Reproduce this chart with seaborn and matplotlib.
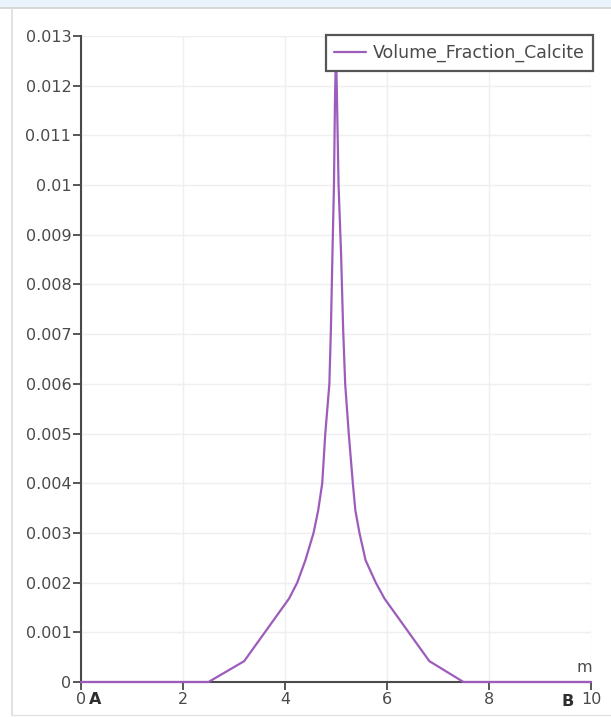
import matplotlib
matplotlib.use("Agg")
import matplotlib.pyplot as plt
import seaborn as sns
import pandas as pd
from matplotlib.patches import Rectangle
from matplotlib.lines import Line2D

# Dane (linia A-B)
dist_m = [0, 2.5, 3.2, 4.08, 4.24, 4.4, 4.56, 4.65, 4.73, 4.79, 4.87, 4.9,
          4.93, 4.96, 4.98, 5.0, 5.02, 5.05, 5.1, 5.14, 5.18, 5.25, 5.33,
          5.38, 5.46, 5.58, 5.78, 5.95, 6.83, 7.5, 10]
calcite = [0, 0, 0.00042, 0.00168, 0.002, 0.00245, 0.003, 0.00345, 0.004,
           0.005, 0.006, 0.0071, 0.0086, 0.0100, 0.0117, 0.0127, 0.0117,
           0.0100, 0.0086, 0.0071, 0.006, 0.005, 0.004, 0.00345, 0.003,
           0.00245, 0.002, 0.00168, 0.00042, 0, 0]

x_ticks = [0, 2, 4, 6, 8, 10]
x_labels = ["0", "2", "4", "6", "8", "10"]
y_ticks = [0, 0.001, 0.002, 0.003, 0.004, 0.005, 0.006, 0.007, 0.008,
           0.009, 0.01, 0.011, 0.012, 0.013]
y_labels = ["0", "0.001", "0.002", "0.003", "0.004", "0.005", "0.006",
            "0.007", "0.008", "0.009", "0.01", "0.011", "0.012", "0.013"]

df = pd.DataFrame({"m": dist_m, "Volume_Fraction_Calcite": calcite})

sns.set_theme(style="white")
plt.rcParams["font.family"] = ["DejaVu Sans"]

line_color = "#9d5cbb"
axis_color = "#4a4a4a"

fig = plt.figure(figsize=(6.11, 7.17), dpi=100)
fig.patch.set_facecolor("white")

# pasek u gory i ramka okna
top_band = 8 / 717
fig.patches.append(Rectangle((0, 1 - top_band), 1, top_band, transform=fig.transFigure,
                             facecolor="#eaf2fc", edgecolor="none"))
fig.lines.append(Line2D([0, 1], [1 - top_band] * 2, transform=fig.transFigure,
                        color="#d0d0d0", lw=1.2))
fig.lines.append(Line2D([12 / 611] * 2, [2 / 717, 1 - top_band], transform=fig.transFigure,
                        color="#dcdcdc", lw=1.2))
fig.lines.append(Line2D([12 / 611, 1], [2 / 717] * 2, transform=fig.transFigure,
                        color="#e2e2e2", lw=1.0))

ax = fig.add_axes([81 / 611, 1 - 682 / 717, 510 / 611, 646 / 717])

sns.lineplot(data=df, x="m", y="Volume_Fraction_Calcite", ax=ax, color=line_color,
             lw=1.6, estimator=None, sort=False, label="Volume_Fraction_Calcite",
             clip_on=False, zorder=3)

ax.set_xlim(0, 10)
ax.set_ylim(0, 0.013)
ax.set_xticks(x_ticks)
ax.set_xticklabels(x_labels)
ax.set_yticks(y_ticks)
ax.set_yticklabels(y_labels)
ax.set_xlabel("")
ax.set_ylabel("")

ax.grid(True, color="#efefef", lw=1)
ax.set_axisbelow(True)
for side in ["top", "right"]:
    ax.spines[side].set_visible(False)
for side in ["left", "bottom"]:
    ax.spines[side].set_color(axis_color)
    ax.spines[side].set_linewidth(1.5)
ax.tick_params(direction="out", length=6, width=1.3, color=axis_color,
               labelcolor=axis_color, labelsize=11.5, pad=1, left=True, bottom=True)

# punkty A i B oraz jednostka
ax.annotate("A", xy=(0, 0), xytext=(10.5, -7.5), textcoords="offset points",
            ha="center", va="top", fontweight="bold", fontsize=11.5, color="#2e2e2e")
ax.annotate("B", xy=(10, 0), xytext=(-17, -9), textcoords="offset points",
            ha="center", va="top", fontweight="bold", fontsize=11.5, color="#2e2e2e")
ax.annotate("m", xy=(10, 0), xytext=(-5, 5), textcoords="offset points",
            ha="center", va="bottom", fontsize=11.5, color=axis_color)

leg = ax.legend(loc="upper right", bbox_to_anchor=(593 / 611, 1 - 35 / 717),
                bbox_transform=fig.transFigure, frameon=True, fancybox=False,
                framealpha=1, fontsize=12.5, handlelength=1.85, handletextpad=0.35,
                borderpad=0.5, borderaxespad=0, labelcolor=axis_color)
leg.get_frame().set_edgecolor("#555555")
leg.get_frame().set_linewidth(1.6)

fig.savefig("out.png", dpi=100)
